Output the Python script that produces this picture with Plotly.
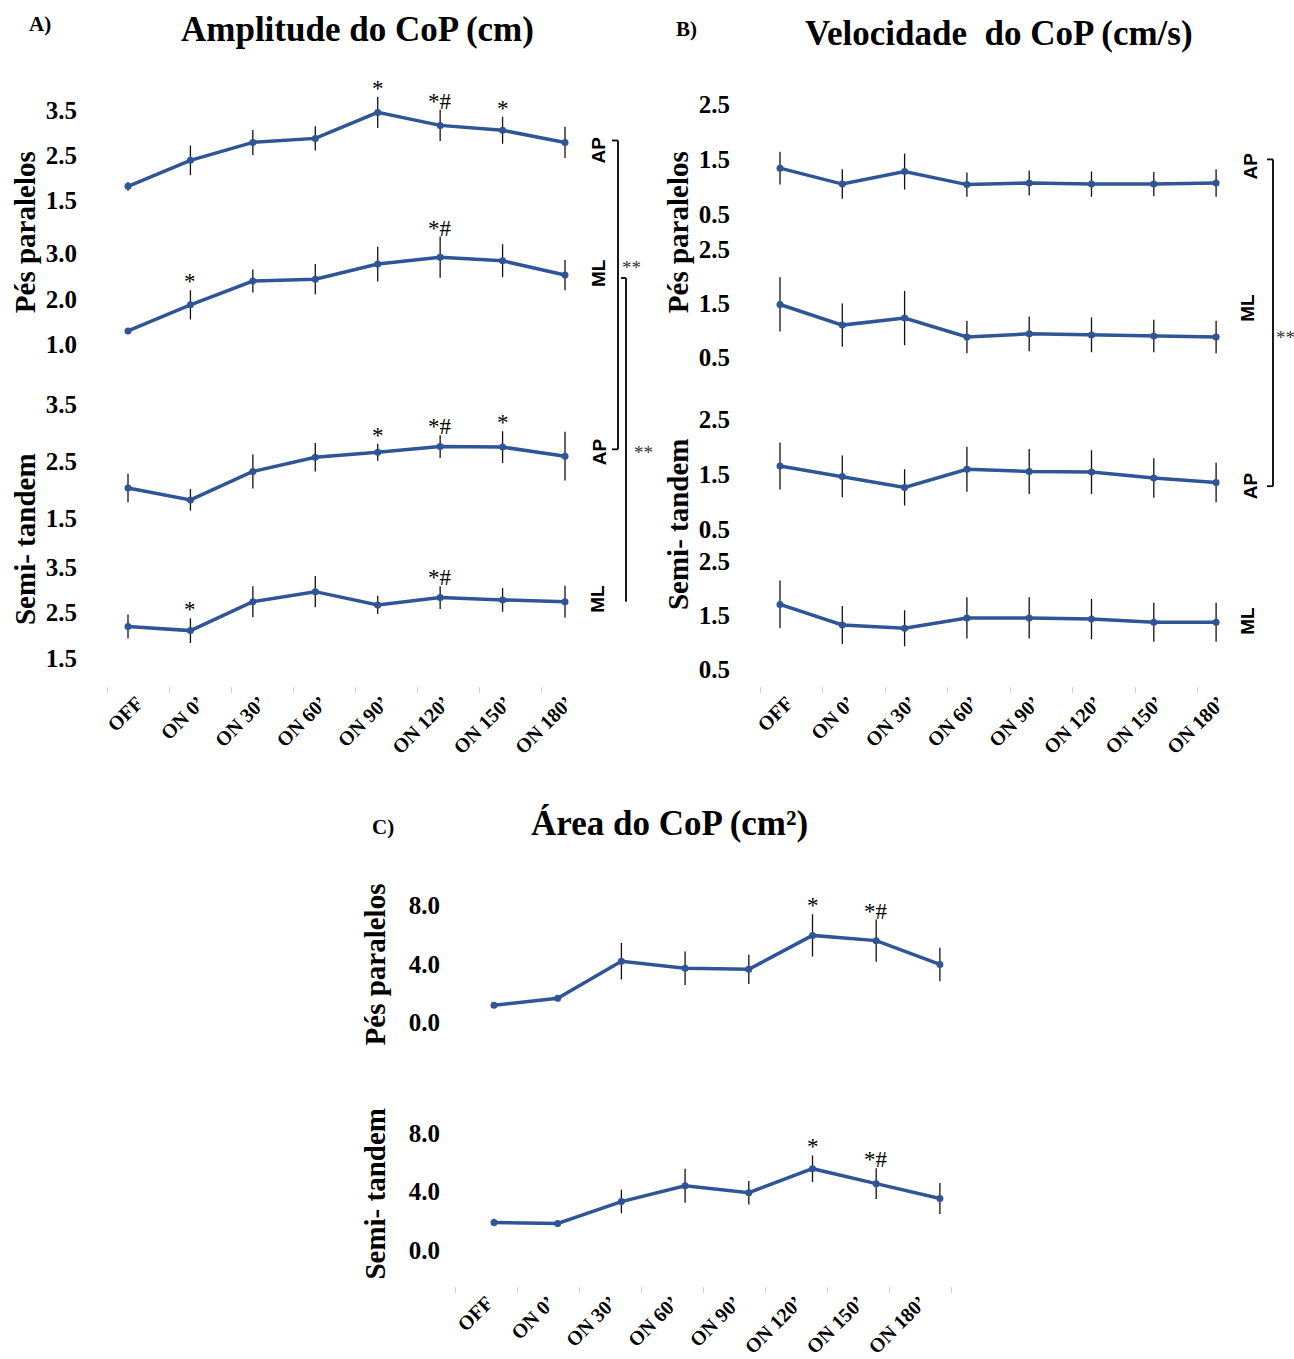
import plotly.graph_objects as go

W, H = 1294, 1359

labels = ["OFF", "ON 0’", "ON 30’", "ON 60’", "ON 90’", "ON 120’", "ON 150’", "ON 180’"]

# Amplitude do CoP (cm)
amp_pp_ap = [1.81, 2.39, 2.79, 2.88, 3.46, 3.17, 3.06, 2.79]
amp_pp_ap_err = [0.10, 0.33, 0.28, 0.27, 0.35, 0.35, 0.30, 0.35]
amp_pp_ap_sig = ["", "", "", "", "*", "*#", "*", ""]
amp_pp_ml = [1.30, 1.87, 2.39, 2.43, 2.76, 2.91, 2.83, 2.52]
amp_pp_ml_err = [0.05, 0.32, 0.25, 0.33, 0.38, 0.45, 0.36, 0.33]
amp_pp_ml_sig = ["", "*", "", "", "", "*#", "", ""]
amp_st_ap = [2.03, 1.82, 2.32, 2.57, 2.66, 2.76, 2.75, 2.59]
amp_st_ap_err = [0.25, 0.19, 0.30, 0.25, 0.15, 0.20, 0.28, 0.43]
amp_st_ap_sig = ["", "", "", "", "*", "*#", "*", ""]
amp_st_ml = [2.20, 2.11, 2.74, 2.96, 2.67, 2.83, 2.78, 2.74]
amp_st_ml_err = [0.26, 0.27, 0.34, 0.34, 0.20, 0.25, 0.26, 0.35]
amp_st_ml_sig = ["", "*", "", "", "", "*#", "", ""]

# Velocidade do CoP (cm/s)
vel_pp_ap = [1.34, 1.05, 1.28, 1.04, 1.07, 1.05, 1.05, 1.07]
vel_pp_ap_err = [0.30, 0.27, 0.33, 0.22, 0.23, 0.23, 0.22, 0.25]
vel_pp_ml = [1.48, 1.10, 1.23, 0.88, 0.94, 0.92, 0.90, 0.88]
vel_pp_ml_err = [0.50, 0.40, 0.50, 0.30, 0.32, 0.32, 0.30, 0.30]
vel_st_ap = [1.65, 1.46, 1.26, 1.59, 1.55, 1.54, 1.43, 1.35]
vel_st_ap_err = [0.43, 0.38, 0.33, 0.41, 0.41, 0.40, 0.36, 0.36]
vel_st_ml = [1.70, 1.32, 1.26, 1.45, 1.45, 1.43, 1.37, 1.37]
vel_st_ml_err = [0.44, 0.35, 0.33, 0.38, 0.38, 0.37, 0.36, 0.36]
no_sig = [""] * 8

# Área do CoP (cm²)
area_pp = [1.16, 1.64, 4.18, 3.70, 3.63, 5.96, 5.60, 3.97]
area_pp_err = [0.15, 0.20, 1.25, 1.15, 1.00, 1.45, 1.45, 1.15]
area_pp_sig = ["", "", "", "", "", "*", "*#", ""]
area_st = [1.90, 1.83, 3.32, 4.40, 3.93, 5.56, 4.54, 3.53]
area_st_err = [0.25, 0.20, 0.80, 1.15, 0.80, 0.90, 1.05, 1.05]
area_st_sig = ["", "", "", "", "", "*", "*#", ""]

BLUE = "#2F5597"
SERIF = "Liberation Serif"
SANS = "Liberation Sans"


def px(x):
    return x / W


def py(y):
    return 1 - y / H


fig = go.Figure()
layout = {}
annotations = []
shapes = []


def add_panel(n, series, err, sig, xl, xr, x0, dx, yt, yb, v1, p1, v2, p2,
              tickvals, lab0=None, labdx=None, tick0=None, tickdx=None):
    xa, ya = f"xaxis{n}", f"yaxis{n}"
    xref, yref = f"x{n}", f"y{n}"
    s = (p2 - p1) / (v1 - v2)
    yrange = [v2 - (yb - p2) / s, v1 + (p1 - yt) / s]
    xrange = [(xl - x0) / dx, (xr - x0) / dx]
    idx = list(range(len(series)))
    fig.add_trace(go.Scatter(
        x=idx, y=series, mode="lines+markers", xaxis=xref, yaxis=yref,
        line=dict(color=BLUE, width=3.5), marker=dict(color=BLUE, size=7),
        error_y=dict(type="data", array=err, color="#111111", thickness=1.3, width=0),
        cliponaxis=False, showlegend=False))
    xdict = dict(domain=[px(xl), px(xr)], range=xrange, anchor=yref,
                 showgrid=False, zeroline=False, showline=False, ticks="")
    if lab0 is not None:
        xdict.update(tickmode="array",
                     tickvals=[(lab0 + i * labdx - x0) / dx for i in idx],
                     ticktext=[f"<b>{t}</b>" for t in labels], tickangle=-45,
                     tickfont=dict(family=SERIF, size=20, color="black"),
                     minor=dict(tickmode="array", ticks="outside", ticklen=6,
                                tickwidth=1, tickcolor="#cfcfcf",
                                tickvals=[(tick0 + k * tickdx - x0) / dx for k in range(9)]))
    else:
        xdict.update(showticklabels=False)
    layout[xa] = xdict
    layout[ya] = dict(domain=[py(yb), py(yt)], range=yrange, anchor=xref,
                      showgrid=False, zeroline=False, showline=False, ticks="",
                      tickmode="array", tickvals=tickvals,
                      ticktext=[f"<b>{v:.1f}</b>" for v in tickvals],
                      tickfont=dict(family=SERIF, size=25, color="black"))
    for i, m in enumerate(sig):
        if m:
            annotations.append(dict(x=i, y=series[i] + err[i], xref=xref, yref=yref,
                                    text=m, showarrow=False, yanchor="bottom", yshift=-6,
                                    font=dict(family=SERIF, size=23, color="black")))


# Panel A
A = dict(xl=78, xr=590, x0=128, dx=62.43)
add_panel(1, amp_pp_ap, amp_pp_ap_err, amp_pp_ap_sig, **A, yt=85, yb=215,
          v1=3.5, p1=110, v2=1.5, p2=200, tickvals=[1.5, 2.5, 3.5])
add_panel(2, amp_pp_ml, amp_pp_ml_err, amp_pp_ml_sig, **A, yt=225, yb=355,
          v1=3.0, p1=253, v2=1.0, p2=345, tickvals=[1.0, 2.0, 3.0])
add_panel(3, amp_st_ap, amp_st_ap_err, amp_st_ap_sig, **A, yt=385, yb=530,
          v1=3.5, p1=405, v2=1.5, p2=519, tickvals=[1.5, 2.5, 3.5])
add_panel(4, amp_st_ml, amp_st_ml_err, amp_st_ml_sig, **A, yt=550, yb=688,
          v1=3.5, p1=568, v2=1.5, p2=660, tickvals=[1.5, 2.5, 3.5],
          lab0=137, labdx=61.4, tick0=107, tickdx=62)

# Panel B
B = dict(xl=731, xr=1240, x0=780, dx=62.3)
add_panel(5, vel_pp_ap, vel_pp_ap_err, no_sig, **B, yt=90, yb=225,
          v1=2.5, p1=104, v2=0.5, p2=214, tickvals=[0.5, 1.5, 2.5])
add_panel(6, vel_pp_ml, vel_pp_ml_err, no_sig, **B, yt=235, yb=370,
          v1=2.5, p1=249, v2=0.5, p2=358, tickvals=[0.5, 1.5, 2.5])
add_panel(7, vel_st_ap, vel_st_ap_err, no_sig, **B, yt=405, yb=545,
          v1=2.5, p1=420, v2=0.5, p2=530, tickvals=[0.5, 1.5, 2.5])
add_panel(8, vel_st_ml, vel_st_ml_err, no_sig, **B, yt=550, yb=688,
          v1=2.5, p1=562, v2=0.5, p2=671, tickvals=[0.5, 1.5, 2.5],
          lab0=787, labdx=61.7, tick0=760, tickdx=62.5)

# Panel C
C = dict(xl=441, xr=960, x0=494, dx=63.7)
add_panel(9, area_pp, area_pp_err, area_pp_sig, **C, yt=890, yb=1045,
          v1=8.0, p1=908, v2=0.0, p2=1025, tickvals=[0.0, 4.0, 8.0])
add_panel(10, area_st, area_st_err, area_st_sig, **C, yt=1120, yb=1290,
          v1=8.0, p1=1136, v2=0.0, p2=1254, tickvals=[0.0, 4.0, 8.0],
          lab0=487, labdx=61.9, tick0=455, tickdx=62)


def text(x, y, t, size, family=SERIF, angle=0, color="black", xanchor="center"):
    annotations.append(dict(x=px(x), y=py(y), xref="paper", yref="paper", text=t,
                            showarrow=False, textangle=angle, xanchor=xanchor,
                            yanchor="middle",
                            font=dict(family=family, size=size, color=color)))


def line(x0, y0, x1, y1, w=1.8):
    shapes.append(dict(type="line", xref="paper", yref="paper",
                       x0=px(x0), y0=py(y0), x1=px(x1), y1=py(y1),
                       line=dict(color="black", width=w)))


# Titles and panel letters
text(357, 29, "<b>Amplitude do CoP (cm)</b>", 35)
text(40, 23, "<b>A)</b>", 21)
text(999, 33, "<b>Velocidade  do CoP (cm/s)</b>", 35)
text(686, 28, "<b>B)</b>", 21)
text(669, 826, "<b>Área do CoP (cm²)</b>", 35)
text(383, 829, "<b>C)</b>", 21)

# Condition titles
text(25, 232, "<b>Pés paralelos</b>", 29, angle=-90)
text(25, 540, "<b>Semi- tandem</b>", 29, angle=-90)
text(678, 232, "<b>Pés paralelos</b>", 29, angle=-90)
text(678, 525, "<b>Semi- tandem</b>", 29, angle=-90)
text(375, 967, "<b>Pés paralelos</b>", 29, angle=-90)
text(375, 1197, "<b>Semi- tandem</b>", 29, angle=-90)

# Direction labels
for x, y, t in [(598, 150, "AP"), (599, 273, "ML"), (599, 453, "AP"), (598, 600, "ML"),
                (1250, 166, "AP"), (1248, 308, "ML"), (1250, 487, "AP"), (1248, 622, "ML")]:
    text(x, y, f"<b>{t}</b>", 19, family=SANS, angle=-90)

# Comparison brackets
line(612, 140, 618, 140)
line(618, 140, 618, 450)
line(612, 450, 618, 450)
text(631, 267, "**", 19, color="#333333")
line(621, 278, 626, 278)
line(626, 278, 626, 603)
text(643, 453, "**", 19, color="#333333")
line(1267, 159, 1273, 159)
line(1273, 159, 1273, 487)
line(1267, 487, 1273, 487)
text(1285, 338, "**", 19, color="#333333")

fig.update_layout(
    width=W, height=H, margin=dict(l=0, r=0, t=0, b=0),
    paper_bgcolor="white", plot_bgcolor="rgba(0,0,0,0)",
    annotations=annotations, shapes=shapes, **layout)

fig.write_html("out.html")
